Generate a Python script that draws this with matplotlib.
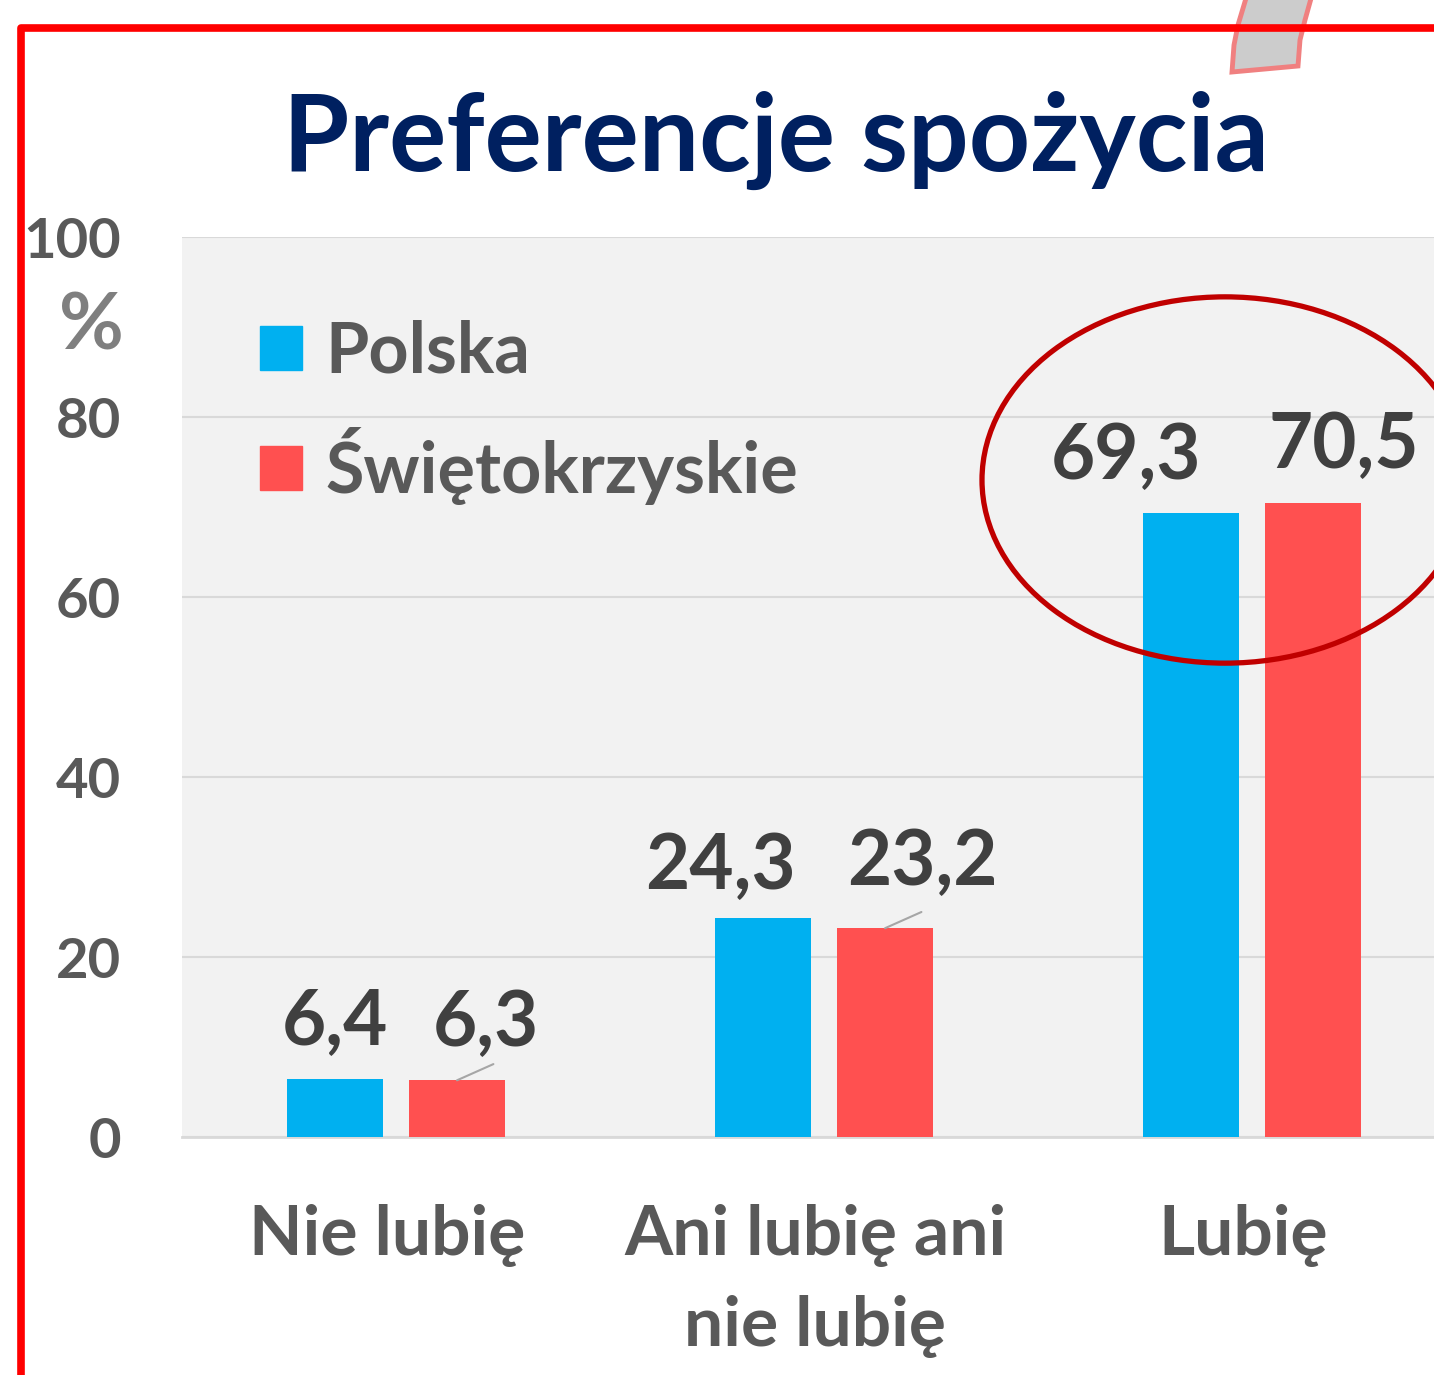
import numpy as np
import matplotlib
matplotlib.use("Agg")
import matplotlib.pyplot as plt
from matplotlib.patches import Ellipse, Patch, Polygon
from matplotlib.lines import Line2D
from matplotlib.transforms import ScaledTranslation

plt.rcParams['font.family'] = ['Lato', 'DejaVu Sans']

# data
categories = ["Nie lubię", "Ani lubię ani\nnie lubię", "Lubię"]
series = ["Polska", "Świętokrzyskie"]
polska = [6.4, 24.3, 69.3]
swietokrzyskie = [6.3, 23.2, 70.5]
yticks = [0, 20, 40, 60, 80, 100]

blue = "#00B0F0"
red = "#FF5050"
gray_txt = "#595959"
dark_txt = "#404040"

W, H = 1434, 1375
fig = plt.figure(figsize=(W / 100, H / 100), dpi=100)

def fx(px):
    return px / W

def fy(py):
    return 1 - py / H

ax = fig.add_axes([fx(182), fy(1137), fx(1434 - 182), 900 / H])
ax.set_facecolor("#F2F2F2")

x = np.arange(len(categories))
bw = 0.224
off = 0.1425
ax.bar(x - off, polska, bw, color=blue, zorder=3, label=series[0])
ax.bar(x + off, swietokrzyskie, bw, color=red, zorder=3, label=series[1])

ax.set_xlim(-0.5, 2.425)
ax.set_ylim(0, 100)
ax.set_yticks(yticks)
ax.set_yticklabels([str(t) for t in yticks], fontsize=40.5, fontweight="bold", color=gray_txt)
ax.tick_params(axis="y", length=0, pad=44)
ax.set_xticks(x)
ax.set_xticklabels(categories, fontsize=50, fontweight="bold", color=gray_txt, linespacing=1.55)
ax.tick_params(axis="x", length=0, pad=48)
shift = ScaledTranslation(-9 / 100, 0, fig.dpi_scale_trans)
for lab in ax.get_xticklabels():
    lab.set_verticalalignment("top")
    lab.set_transform(lab.get_transform() + shift)
ax.grid(axis="y", color="#D9D9D9", linewidth=1.5, zorder=0)
for s in ["top", "right", "left"]:
    ax.spines[s].set_visible(False)
ax.spines["bottom"].set_color("#D9D9D9")
ax.spines["bottom"].set_linewidth(2)

# "%" under the 100 label
ax.text(-0.5 - 58 / 428, 90.0, "%", fontsize=57, fontweight="bold",
        color="#7F7F7F", ha="right", va="center", clip_on=False)

# data labels (manual offsets in points, as in the original)
dx_p = [0, -31, -47]
dy_p = [24.5, 21, 25]
dx_s = [21, 27, 22]
dy_s = [25, 31, 24.5]
for i in range(len(categories)):
    ax.annotate(f"{polska[i]:.1f}".replace(".", ","), (x[i] - off, polska[i]),
                xytext=(dx_p[i], dy_p[i]), textcoords="offset points",
                ha="center", va="baseline", fontsize=55, fontweight="bold", color=dark_txt)
    ax.annotate(f"{swietokrzyskie[i]:.1f}".replace(".", ","), (x[i] + off, swietokrzyskie[i]),
                xytext=(dx_s[i], dy_s[i]), textcoords="offset points",
                ha="center", va="baseline", fontsize=55, fontweight="bold", color=dark_txt)
# leader lines for shifted labels
for i in [0, 1]:
    ax.annotate("", (x[i] + off, swietokrzyskie[i]), xytext=(x[i] + off + 0.085, swietokrzyskie[i] + 1.8),
                arrowprops=dict(arrowstyle="-", color="#A6A6A6", lw=1.5, shrinkA=0, shrinkB=0))

leg = ax.legend(handles=[Patch(color=blue), Patch(color=red)], labels=series,
                loc="upper left", bbox_to_anchor=(0.0623, 0.908), frameon=False,
                borderpad=0, borderaxespad=0,
                prop=dict(size=50.5, weight="bold"), labelcolor=gray_txt,
                handlelength=0.6, handleheight=0.6, handletextpad=0.33, labelspacing=0.6)

# highlight ellipse
ax.add_patch(Ellipse((1.937, 73.0), 1.136, 40.7, fill=False, edgecolor="#C00000",
                     linewidth=3.8, clip_on=False, zorder=5))

# title
fig.text(fx(776), fy(140), "Preferencje spożycia", fontsize=77, fontweight="bold",
         color="#002060", ha="center", va="center")

# red frame
fig.add_artist(Line2D([fx(21), fx(21), fx(1440)], [fy(1380), fy(28), fy(28)],
                      color="#FF0000", linewidth=5.5, solid_joinstyle="round"))

# grey tab at top right
tab = [(1232, 72), (1234, 45), (1238, 25), (1247, -5), (1312, -5), (1305, 20),
       (1300, 40), (1298, 66)]
fig.add_artist(Polygon([(fx(a), fy(b)) for a, b in tab], closed=True, facecolor="#CCCCCC",
                       edgecolor="#F08080", linewidth=3.5))

fig.savefig("out.png", dpi=100)
